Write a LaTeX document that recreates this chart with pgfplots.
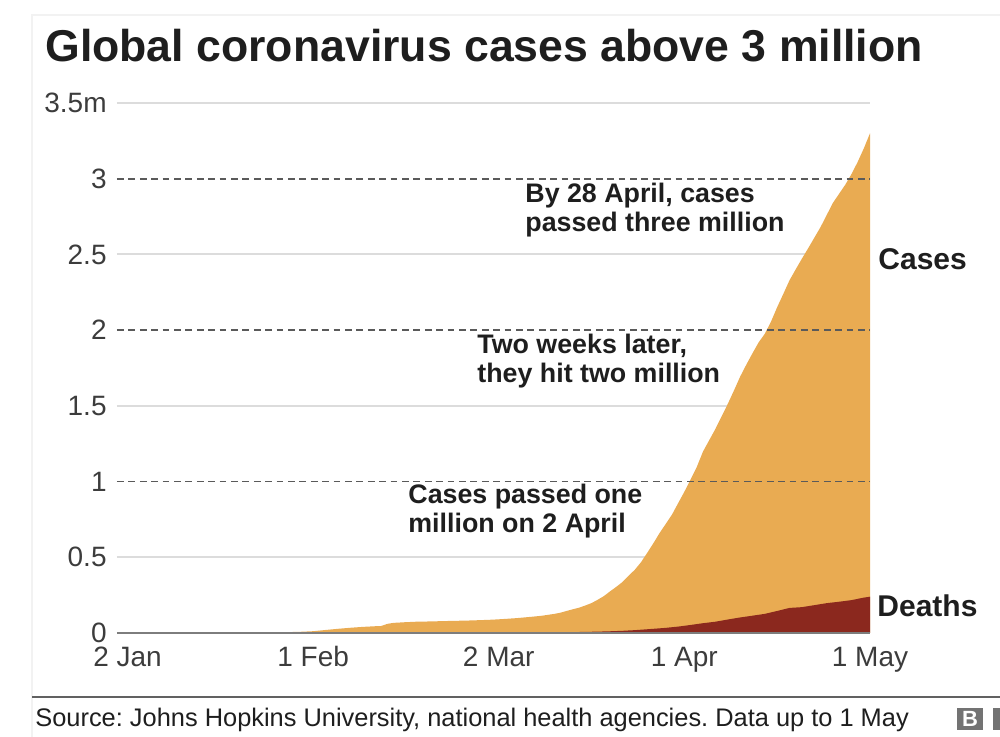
\documentclass[border=0pt]{standalone}
\usepackage{fontspec}
\setmainfont{Liberation Sans}
\usepackage{pgfplots}
\usepackage{pgfplotstable}
\pgfplotsset{compat=1.18}
\definecolor{cCases}{RGB}{233,171,82}
\definecolor{cDeaths}{RGB}{139,40,30}
\definecolor{cText}{RGB}{30,30,30}
\definecolor{cTick}{RGB}{60,60,60}
\definecolor{cGrid}{RGB}{220,220,220}
\definecolor{cDash}{RGB}{90,90,90}
\definecolor{cBase}{RGB}{125,125,125}
\definecolor{cLogo}{RGB}{115,115,115}

% day 0 = 2 Jan, values in millions
\pgfplotstableread{
day cases
0 0
19 0
20 0.0006
22 0.0013
24 0.0029
26 0.0058
28 0.0080
30 0.0118
32 0.0198
34 0.0276
36 0.0345
38 0.0403
40 0.0446
41 0.0462
42 0.0604
43 0.0669
45 0.0715
47 0.0751
49 0.0762
51 0.0786
53 0.0803
55 0.0822
57 0.0849
59 0.0880
61 0.0929
63 0.0985
65 0.1059
67 0.1141
69 0.1263
70 0.1342
71 0.1459
72 0.1569
73 0.1672
74 0.1818
75 0.1977
76 0.2197
77 0.2440
78 0.2754
79 0.3049
80 0.3370
81 0.3784
82 0.4182
83 0.4678
84 0.5296
85 0.5933
86 0.6608
87 0.7210
88 0.7821
89 0.8579
90 0.9330
91 1.0134
92 1.0958
93 1.1975
94 1.2721
95 1.3464
96 1.4290
97 1.5116
98 1.6000
99 1.6919
100 1.7713
101 1.8467
102 1.9190
103 1.9760
104 2.0564
105 2.1520
106 2.2400
107 2.3298
108 2.4020
109 2.4725
110 2.5400
111 2.6100
112 2.6800
113 2.7600
114 2.8400
115 2.9000
116 2.9600
117 3.0300
118 3.1100
119 3.2000
120 3.3000
}\casesdata

\pgfplotstableread{
day deaths
0 0
20 0.00002
30 0.00026
40 0.0011
50 0.0023
59 0.0030
67 0.0040
70 0.0047
73 0.0065
76 0.0090
78 0.0114
80 0.0144
82 0.0189
83 0.0217
85 0.0277
87 0.0340
89 0.0423
91 0.0530
93 0.0646
95 0.0745
97 0.0888
99 0.1026
101 0.1143
103 0.1263
105 0.1456
107 0.1655
109 0.1707
111 0.1838
113 0.1971
115 0.2064
117 0.2170
119 0.2337
120 0.2396
}\deathsdata

\begin{document}
\frenchspacing
\begin{tikzpicture}
\path[use as bounding box] (0,0) rectangle (500pt,368.5pt);
% faint frame and footer rule
\draw[black!5, line width=0.8pt] (16pt,0) -- (16pt,361pt) -- (500pt,361pt);
\draw[black!62, line width=1pt] (16pt,20pt) -- (500pt,20pt);

\node[anchor=base west, inner sep=0pt, text=cText,
  font=\fontsize{22.3}{26}\selectfont\bfseries] at (22.5pt,337.5pt)
  {Global coronavirus cases above 3 million};

\begin{axis}[
  at={(58.5pt,52pt)}, anchor=south west,
  scale only axis, width=376.5pt, height=265pt,
  xmin=-1.7, xmax=120, ymin=0, ymax=3.5,
  clip=false,
  axis line style={draw=none},
  major tick length=0pt,
  xtick={0,30,60,90,120},
  xticklabels={2 Jan,1 Feb,2 Mar,1 Apr,1 May},
  ytick={0,0.5,1,1.5,2,2.5,3,3.5},
  yticklabels={0,0.5,1,1.5,2,2.5,3,3.5m},
  tick label style={font=\fontsize{14}{16}\selectfont, text=cTick, inner sep=0pt},
  xticklabel style={anchor=base, yshift=-17pt},
  yticklabel style={anchor=east, xshift=-5pt},
]
\draw[cGrid, line width=1pt] (axis cs:-1.7,0.5) -- (axis cs:120,0.5);
\draw[cGrid, line width=1pt] (axis cs:-1.7,1.5) -- (axis cs:120,1.5);
\draw[cGrid, line width=1pt] (axis cs:-1.7,2.5) -- (axis cs:120,2.5);
\draw[cGrid, line width=1pt] (axis cs:-1.7,3.5) -- (axis cs:120,3.5);

\addplot[fill=cCases, draw=none] table[x=day, y=cases] {\casesdata} \closedcycle;
\addplot[fill=cDeaths, draw=none] table[x=day, y=deaths] {\deathsdata} \closedcycle;

\draw[cDash, line width=0.9pt, dash pattern=on 3.4pt off 2.3pt] (axis cs:-1.7,1) -- (axis cs:120,1);
\draw[cDash, line width=0.9pt, dash pattern=on 3.4pt off 2.3pt] (axis cs:-1.7,2) -- (axis cs:120,2);
\draw[cDash, line width=0.9pt, dash pattern=on 3.4pt off 2.3pt] (axis cs:-1.7,3) -- (axis cs:120,3);
\draw[cBase, line width=1pt] (axis cs:-1.7,0) -- (axis cs:120,0);
\end{axis}

\begin{scope}[every node/.style={inner sep=0pt, text=cText}]
% multi-line nodes: base anchor sits on the last line
\node[anchor=base west, align=left, font=\fontsize{13.4}{14.5}\selectfont\bfseries]
  at (262.5pt,252.5pt) {By 28 April, cases\\passed three million};
\node[anchor=base west, align=left, font=\fontsize{13.4}{14.5}\selectfont\bfseries]
  at (238.5pt,177pt) {Two weeks later,\\they hit two million};
\node[anchor=base west, align=left, font=\fontsize{13.4}{14.5}\selectfont\bfseries]
  at (204pt,102pt) {Cases passed one\\million on 2 April};
\node[anchor=base west, font=\fontsize{15}{18}\selectfont\bfseries]
  at (439pt,233.5pt) {Cases};
\node[anchor=base west, font=\fontsize{15}{18}\selectfont\bfseries]
  at (438.5pt,60pt) {Deaths};
\node[anchor=base west, font=\fontsize{12.7}{15}\selectfont]
  at (17.5pt,5pt) {Source: Johns Hopkins University, national health agencies. Data up to 1 May};
\end{scope}

% BBC logo (cut at the right edge)
\fill[cLogo] (478.5pt,3.5pt) rectangle (491.5pt,14.5pt);
\fill[cLogo] (496.5pt,3.5pt) rectangle (500pt,14.5pt);
\node[text=white, inner sep=0pt, font=\fontsize{11}{12}\selectfont\bfseries] at (485pt,9pt) {B};
\end{tikzpicture}
\end{document}
